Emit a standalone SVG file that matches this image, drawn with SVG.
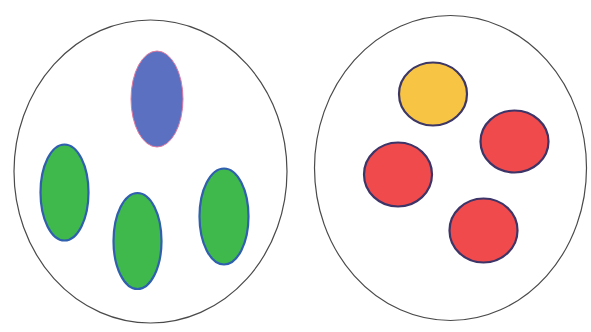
<svg xmlns="http://www.w3.org/2000/svg" width="591" height="332" viewBox="0 0 591 332">
<style>
.outer{fill:#fff;stroke:#4a4a4a;stroke-width:1.2}
.blue{fill:#5c70c2;stroke:#e07aa0;stroke-width:1}
.green{fill:#3fb84c;stroke:#2f5fae;stroke-width:2.2}
.yellow{fill:#f7c443;stroke:#3d3766;stroke-width:2.2}
.red{fill:#f04a4c;stroke:#3d3468;stroke-width:2.2}
</style>
<rect width="591" height="332" fill="#fff"/>
<g id="left-set">
<ellipse class="outer" cx="150.5" cy="171.5" rx="136.5" ry="151.5"/>
</g>
<g id="blue-1"><ellipse class="blue" cx="157" cy="99" rx="26" ry="48"/></g>
<g id="green-1"><ellipse class="green" cx="64.5" cy="192.5" rx="24" ry="48"/></g>
<g id="green-2"><ellipse class="green" cx="137.5" cy="241" rx="24" ry="48"/></g>
<g id="green-3"><ellipse class="green" cx="224" cy="216.5" rx="24.5" ry="48"/></g>
<g id="right-set">
<ellipse class="outer" cx="450.5" cy="168" rx="136" ry="152.5"/>
</g>
<g id="yellow-1"><ellipse class="yellow" cx="433" cy="94" rx="34" ry="31.5"/></g>
<g id="red-1"><ellipse class="red" cx="514.5" cy="141.5" rx="34" ry="31"/></g>
<g id="red-2"><ellipse class="red" cx="398" cy="174.5" rx="34" ry="32"/></g>
<g id="red-3"><ellipse class="red" cx="483.5" cy="230.5" rx="34" ry="32"/></g>
<g id="connectors"></g>
</svg>
